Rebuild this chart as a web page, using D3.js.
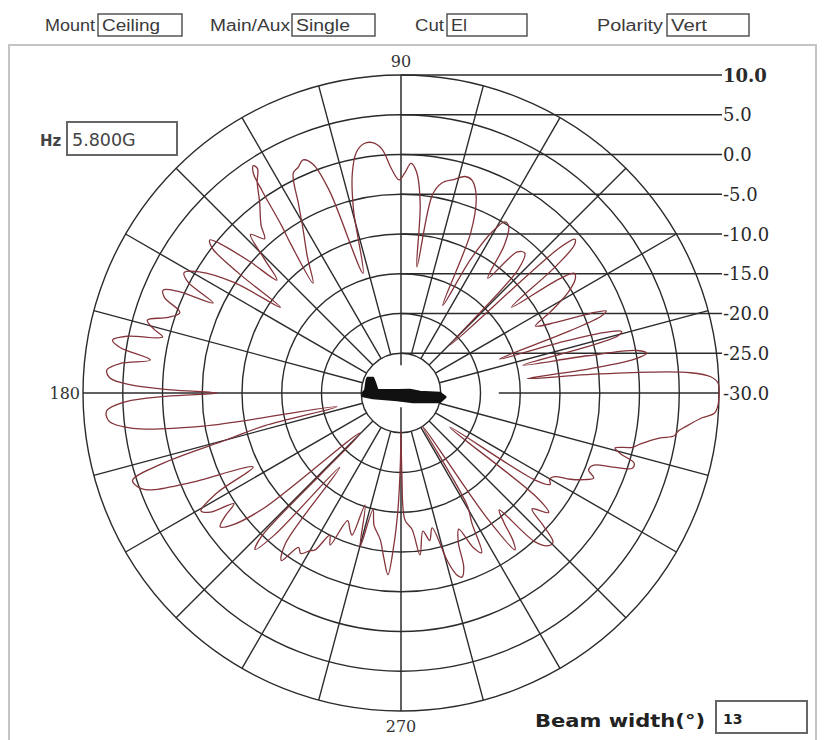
<!DOCTYPE html>
<html>
<head>
<meta charset="utf-8">
<script src="https://cdn.jsdelivr.net/npm/d3@7"></script>
<style>
  html, body { margin: 0; padding: 0; background: #fff; }
  svg { display: block; }
</style>
</head>
<body>
<svg id="chart" width="824" height="740"></svg>
<script>
// ---------------- DATA ----------------
const fieldLabels = ["Mount", "Main/Aux", "Cut", "Polarity"];
const fieldValues = ["Ceiling", "Single", "El", "Vert"];
const freqLabel = "Hz";
const freqValue = "5.800G";
const beamLabel = "Beam width(\u00B0)";
const beamValue = "13";

const ringDb = [10, 5, 0, -5, -10, -15, -20, -25];
const ringLabels = ["10.0", "5.0", "0.0", "-5.0", "-10.0", "-15.0", "-20.0", "-25.0", "-30.0"];
const ringLabelDb = [10, 5, 0, -5, -10, -15, -20, -25, -30];
const axisLabels = ["90", "180", "270"];
const spokeStep = 15;

// measured pattern: angle (deg, CCW from right) and gain (dB), in trace order
const angleDeg = [
  0, 1.8, 3, 4, 4.8, 5.6, 6.5, 7.3, 8.2, 9.2, 10.2, 11.3, 12.9, 14, 14.8, 15.6, 16.5, 17.6, 19, 20.2,
  21, 21.8, 22.8, 24.5, 26.5, 28.5, 31, 33.2, 34.6, 35.8, 37.8, 39.3, 40.5, 41.5, 42.5, 44.4, 46.5, 48.5, 50.5, 52.9,
  55, 57, 58.7, 60.5, 62.5, 64.5, 66.5, 69, 71.5, 73.5, 76, 79, 81, 82.8, 84.2, 86, 87.5, 89, 90.5, 92.5,
  94.5, 96.5, 98.5, 100.5, 102.5, 104.5, 107.6, 109.5, 111, 112.8, 114.5, 116.1, 118.5, 120.7, 124.5, 128.7, 126.5, 125.5, 124.5, 123.9,
  123, 122.6, 124.3, 126.5, 129.8, 131.5, 133.5, 135.5, 137.7, 139, 140.5, 141.3, 142.5, 143.6, 144.6, 146.5, 149, 151, 152.5, 154.4,
  155.5, 156.6, 158, 160, 162, 164, 165.5, 166.8, 168.3, 169.6, 170.8, 172.5, 174, 175.5, 177, 178.3, 179.2, 180, 180.8, 181.8,
  183.5, 185.5, 187.5, 189.5, 192, 193.5, 195, 196.5, 198, 199.5, 201, 203, 206.6, 208.5, 210.5, 212, 213.5, 215, 216.5, 218,
  220, 224.3, 225.8, 227, 228.3, 230.5, 232.5, 234.5, 236.4, 238, 240, 241.3, 243.4, 245, 247.3, 249.6, 251, 252.2, 255.1, 256.5,
  258.5, 261.9, 264, 265.9, 267.2, 268.5, 269.5, 270, 270.6, 271.8, 274.6, 276.7, 279, 281, 283, 285.5, 287, 288.3, 289.8, 291,
  293, 295, 296.8, 298.6, 300.5, 303, 304.5, 306, 307.2, 308.5, 310, 312, 314, 315.5, 317, 318.5, 321, 322.5, 325, 327,
  328.5, 330, 331.4, 333, 334.7, 336.2, 337.7, 339.5, 340.7, 342, 343.3, 344.5, 345.6, 346.8, 348, 350.1, 351.1, 352.2, 353.2, 355.3,
  356.3, 357.8
];
const gainDb = [
  10.0, 9.9, 9.0, 6.5, 1.4, -6.1, -14.0, -6.1, -0.4, 1.3, 0.2, -6.1, -14.3, -5.5, -1.7, -1.2, -3.0, -8.6, -16.9, -7.4,
  -3.0, -2.2, -4.2, -8.6, -11.1, -8.6, -5.5, -3.8, -3.5, -5.5, -12.4, -4.8, -1.3, -0.8, -3.0, -21.4, -8.6, -6.5, -7.0, -11.9,
  -7.4, -5.1, -4.8, -6.7, -11.1, -17.8, -8.0, -3.6, -1.8, -1.6, -2.3, -3.1, -4.8, -14.0, -6.1, -2.1, -1.1, -2.3, -3.2, -1.7,
  0.8, 1.7, 1.7, 0.8, -1.7, -6.1, -14.2, -3.0, 0.8, 1.8, 1.2, 0.8, -3.0, -5.8, -9.2, -12.3, -6.7, -4.1, 0.8, 3.3,
  4.1, 3.5, 2.1, -0.1, -2.5, -4.1, -2.5, -5.8, -8.9, -4.8, -0.4, 0.8, -0.1, -4.8, -11.4, -4.8, -0.4, 1.2, 0.2, -3.8,
  0.8, 2.6, 2.1, -0.4, 0.8, 3.2, 2.1, 0.8, 5.2, 6.9, 5.8, 1.8, 5.5, 7.1, 6.7, 4.0, -1.1, -6.9, -0.4, 4.6,
  7.1, 6.9, 4.0, -4.8, -21.8, -12.4, -7.4, 1.4, 5.5, 5.2, 4.0, -1.1, -9.2, -3.6, -0.8, -1.7, -4.8, -3.0, -1.7, -3.0,
  -7.4, -22.8, -4.8, -3.1, -6.1, -17.9, -6.1, -4.1, -6.7, -6.2, -7.1, -7.5, -10.0, -8.9, -12.6, -11.6, -11.1, -15.2, -10.0, -14.9,
  -13.0, -11.4, -9.2, -7.1, -10.5, -15.3, -21.2, -25.3, -19.9, -14.0, -12.8, -9.5, -12.4, -11.1, -12.6, -8.0, -6.1, -5.6, -6.7, -9.9,
  -11.4, -8.6, -7.5, -11.4, -13.6, -25.0, -11.1, -5.6, -6.7, -9.2, -10.8, -4.8, -3.3, -3.2, -5.5, -8.0, -6.1, -8.6, -22.5, -9.9,
  -8.0, -8.4, -8.0, -6.1, -4.5, -3.5, -4.5, -4.1, -1.8, 0.6, 0.6, -1.3, -2.2, -0.1, 0.8, 3.0, 4.8, 5.2, 6.0, 8.0,
  9.5, 9.9
];

// mount pictogram (aircraft) outline in the same polar units
const planeAngle = [180, 175.2, 159.1, 155.6, 151.8, 159, 172.9, 143, 18.4, 3, 0, -5.2, -13, -36.9, 240.3, 190.1, 184.5];
const planeDb = [-25.2, -25.5, -25.4, -25.4, -26.0, -26.5, -27.0, -29.4, -28.8, -27.6, -25.1, -24.4, -25.0, -28.1, -29.0, -26.4, -25.2];

// ---------------- LAYOUT ----------------
const cx = 401, cy = 393, R = 318;
const svg = d3.select("#chart");
const r = d3.scaleLinear().domain([-30, 10]).range([0, R]);
const toRad = d => (90 - d) * Math.PI / 180; // d3 radial: 0 = up, clockwise
const gridColor = "#2b2b2b";

// outer frame
svg.append("rect").attr("x", 9).attr("y", 45).attr("width", 807).attr("height", 720)
  .attr("fill", "none").attr("stroke", "#c4c4c4").attr("stroke-width", 2);

// header fields
const fieldX = [45, 210, 415, 597];
const fieldBox = [[98, 84], [292, 83], [447, 80], [667, 82]];
const fieldTextW = [50, 80, 29, 66];
const fieldValW = [58, 54, 16, 36];
const head = svg.append("g").attr("font-family", "'Liberation Sans', Arial, sans-serif")
  .attr("font-size", 16).attr("fill", "#3a3a3a");
fieldLabels.forEach((t, i) => {
  head.append("text").attr("x", fieldX[i]).attr("y", 31).attr("textLength", fieldTextW[i])
    .attr("lengthAdjust", "spacingAndGlyphs").text(t);
  head.append("rect").attr("x", fieldBox[i][0]).attr("y", 14).attr("width", fieldBox[i][1]).attr("height", 22)
    .attr("fill", "#fff").attr("stroke", "#555").attr("stroke-width", 1.5);
  head.append("text").attr("x", fieldBox[i][0] + 4).attr("y", 31).attr("textLength", fieldValW[i])
    .attr("lengthAdjust", "spacingAndGlyphs").text(fieldValues[i]);
});

const g = svg.append("g").attr("transform", `translate(${cx},${cy})`);

// rings
g.selectAll("circle.ring").data(ringDb).join("circle").attr("class", "ring")
  .attr("r", d => r(d)).attr("fill", "none").attr("stroke", gridColor).attr("stroke-width", 1.4);

// spokes
const spokes = d3.range(0, 360, spokeStep).filter(a => a % 90 !== 0);
g.selectAll("line.spoke").data(spokes).join("line").attr("class", "spoke")
  .attr("x1", a => r(-25) * Math.cos(a * Math.PI / 180))
  .attr("y1", a => -r(-25) * Math.sin(a * Math.PI / 180))
  .attr("x2", a => R * Math.cos(a * Math.PI / 180))
  .attr("y2", a => -R * Math.sin(a * Math.PI / 180))
  .attr("stroke", gridColor).attr("stroke-width", 1.4);

// main axes
const axisSegs = [
  [-R, 0, -r(-25.2), 0], [r(-17.7), 0, R, 0],
  [0, -R, 0, -r(-26.5)], [0, r(-28.2), 0, R]
];
g.selectAll("line.axis").data(axisSegs).join("line").attr("class", "axis")
  .attr("x1", d => d[0]).attr("y1", d => d[1]).attr("x2", d => d[2]).attr("y2", d => d[3])
  .attr("stroke", gridColor).attr("stroke-width", 1.5);

// ring label leader lines
g.selectAll("line.leader").data(ringLabelDb.filter(d => d > -30)).join("line").attr("class", "leader")
  .attr("x1", 0).attr("x2", R + 3).attr("y1", d => -r(d)).attr("y2", d => -r(d))
  .attr("stroke", gridColor).attr("stroke-width", 1.5);

// ring labels
g.selectAll("text.rl").data(ringLabels).join("text").attr("class", "rl")
  .attr("x", R + 4).attr("y", (d, i) => -r(ringLabelDb[i]) + 6.5)
  .attr("font-family", "'DejaVu Serif', serif").attr("font-size", 18)
  .attr("font-weight", (d, i) => i === 0 ? "bold" : "normal")
  .attr("fill", "#2a2a2a").text(d => d);

// angle labels
const angLab = g.append("g").attr("font-family", "'DejaVu Serif', serif").attr("font-size", 16).attr("fill", "#333");
angLab.append("text").attr("x", 0).attr("y", -R - 8).attr("text-anchor", "middle").text(axisLabels[0]);
angLab.append("text").attr("x", -R - 3).attr("y", 6).attr("text-anchor", "end").text(axisLabels[1]);
angLab.append("text").attr("x", 0).attr("y", R + 21).attr("text-anchor", "middle").text(axisLabels[2]);

// pattern trace
const pts = angleDeg.map((a, i) => [a, gainDb[i]]);
const line = d3.lineRadial().angle(d => toRad(d[0])).radius(d => r(d[1]))
  .curve(d3.curveCatmullRomClosed.alpha(0.5));
g.append("path").attr("d", line(pts)).attr("fill", "none")
  .attr("stroke", "#84343a").attr("stroke-width", 1.3).attr("stroke-linejoin", "round");

// mount pictogram
const plane = planeAngle.map((a, i) => [a, planeDb[i]]);
const planeLine = d3.lineRadial().angle(d => toRad(d[0])).radius(d => r(d[1])).curve(d3.curveLinearClosed);
g.append("path").attr("d", planeLine(plane)).attr("fill", "#111").attr("stroke", "#111").attr("stroke-width", 2.5)
  .attr("stroke-linejoin", "round");

// frequency box
const fq = svg.append("g").attr("font-family", "'DejaVu Sans', Verdana, sans-serif").attr("fill", "#444");
fq.append("text").attr("x", 40).attr("y", 146).attr("font-size", 15).attr("font-weight", "bold").text(freqLabel);
fq.append("rect").attr("x", 67).attr("y", 122).attr("width", 110).attr("height", 33)
  .attr("fill", "#fff").attr("stroke", "#666").attr("stroke-width", 2);
fq.append("text").attr("x", 72).attr("y", 146).attr("font-size", 17.5).text(freqValue);

// beam width
const bw = svg.append("g").attr("font-family", "'DejaVu Sans', Verdana, sans-serif").attr("fill", "#222");
bw.append("text").attr("x", 535).attr("y", 727).attr("font-size", 18).attr("font-weight", "bold")
  .attr("textLength", 170).attr("lengthAdjust", "spacingAndGlyphs").text(beamLabel);
bw.append("rect").attr("x", 716).attr("y", 701).attr("width", 91).attr("height", 32)
  .attr("fill", "#fff").attr("stroke", "#666").attr("stroke-width", 2);
bw.append("text").attr("x", 723).attr("y", 724).attr("font-size", 14).attr("font-weight", "bold").text(beamValue);
</script>
</body>
</html>
